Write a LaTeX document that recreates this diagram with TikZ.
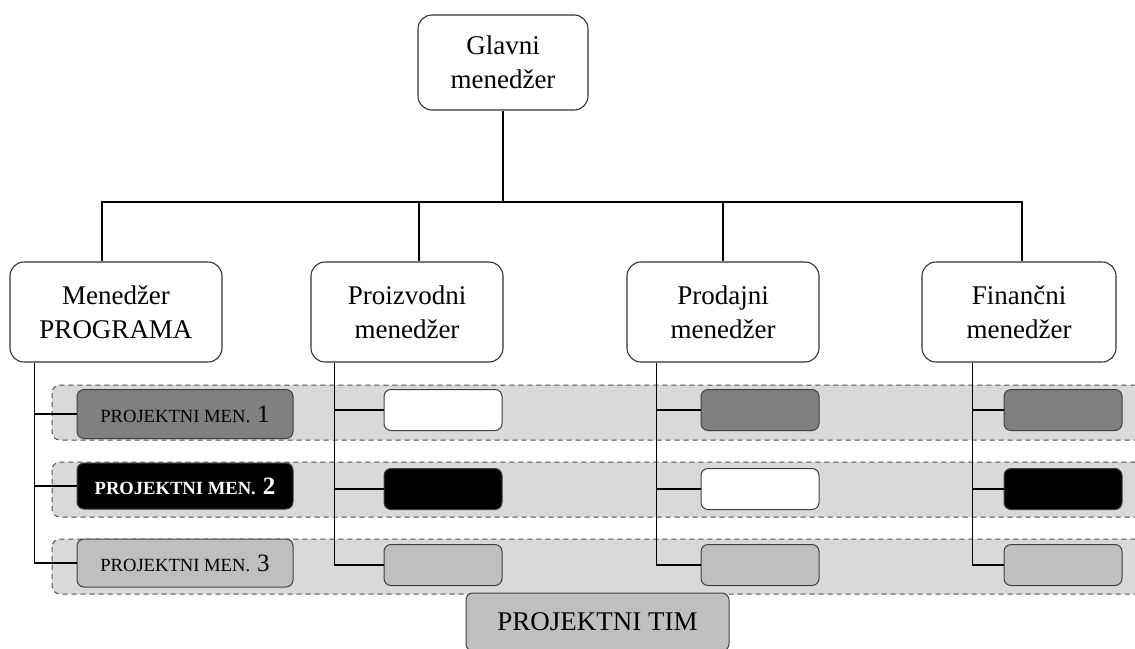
\documentclass[tikz,border=0pt]{standalone}
\usepackage{fontspec}
\setmainfont{Liberation Serif}
\usepackage{tikz}

% label of the project managers
\newcommand{\pmlabel}[1]{{\fontsize{18.6}{20}\selectfont PROJEKTNI MEN.}\hspace{7pt}{\fontsize{25}{28}\selectfont #1}}

\begin{document}
\begin{tikzpicture}[x=1pt,y=-1pt]

	% styles of the boxes
	\tikzstyle{manager}=[draw=black!80,line width=1.1pt,rounded corners=14pt,fill=white,align=center,
		font=\fontsize{27}{34}\selectfont,inner sep=0pt,minimum height=100pt]
	\tikzstyle{projbox}=[draw=black!75,line width=1pt,rounded corners=7pt,inner sep=0pt,
		minimum height=41pt,minimum width=118pt]
	\tikzstyle{band}=[draw=black!70,dash pattern=on 5pt off 4pt,fill=black!15,rounded corners=8pt,line width=1pt]
	\tikzstyle{link}=[line width=1.3pt]

	\useasboundingbox (0,0) rectangle (1135,648);

	% project team bands
	\foreach \y in {385,462,539}
		\draw[band] (52,\y) rectangle (1160,\y+55);

	\node[manager,minimum width=170pt,minimum height=95pt] (glavni) at (503,62.5) {Glavni\\menedžer};

	\node[manager,minimum width=212pt] (program) at (116,312) {Menedžer\\PROGRAMA};
	\node[manager,minimum width=192pt] (proizv) at (407,312) {Proizvodni\\menedžer};
	\node[manager,minimum width=192pt] (prodaj) at (723,312) {Prodajni\\menedžer};
	\node[manager,minimum width=194pt] (financ) at (1019,312) {Finančni\\menedžer};

	\coordinate (bus) at (503,202);
	\draw[link] (glavni.south) -- (bus);
	\draw[link] ([xshift=-14pt]program.north) |- ([xshift=3pt]financ.north |- bus) -- ([xshift=3pt]financ.north);
	\draw[link] ([xshift=12pt]proizv.north) -- ([xshift=12pt]proizv.north |- bus);
	\draw[link] (prodaj.north) -- (prodaj.north |- bus);

	% project managers and team members
	\node[projbox,minimum width=216pt,minimum height=49pt,fill=black!50] (pm1) at (185,414) {\pmlabel{1}};
	\node[projbox,minimum width=216pt,minimum height=46pt,fill=black,text=white,font=\bfseries] (pm2) at (185,486) {\pmlabel{2}};
	\node[projbox,minimum width=216pt,minimum height=48pt,fill=black!25] (pm3) at (185,563) {\pmlabel{3}};

	\node[projbox,fill=white] (proiz1) at (443,410) {};
	\node[projbox,fill=black] (proiz2) at (443,489) {};
	\node[projbox,fill=black!25] (proiz3) at (443,565) {};

	\node[projbox,fill=black!50] (prod1) at (760,410) {};
	\node[projbox,fill=white] (prod2) at (760,489) {};
	\node[projbox,fill=black!25] (prod3) at (760,565) {};

	\node[projbox,fill=black!50] (fin1) at (1063,410) {};
	\node[projbox,fill=black] (fin2) at (1063,489) {};
	\node[projbox,fill=black!25] (fin3) at (1063,565) {};

	\coordinate (c1) at ([xshift=25pt]program.south west);
	\coordinate (c2) at ([xshift=24pt]proizv.south west);
	\coordinate (c3) at ([xshift=30pt]prodaj.south west);
	\coordinate (c4) at ([xshift=51pt]financ.south west);

	\draw[link] (c1) |- (pm3.west);
	\draw[link] (c1 |- pm1.west) -- (pm1.west);
	\draw[link] (c1 |- pm2.west) -- (pm2.west);

	\draw[link] (c2) |- (proiz3.west);
	\draw[link] (c2 |- proiz1.west) -- (proiz1.west);
	\draw[link] (c2 |- proiz2.west) -- (proiz2.west);

	\draw[link] (c3) |- (prod3.west);
	\draw[link] (c3 |- prod1.west) -- (prod1.west);
	\draw[link] (c3 |- prod2.west) -- (prod2.west);

	\draw[link] (c4) |- (fin3.west);
	\draw[link] (c4 |- fin1.west) -- (fin1.west);
	\draw[link] (c4 |- fin2.west) -- (fin2.west);

	\node[projbox,minimum width=263pt,minimum height=58pt,fill=black!25,
		font=\fontsize{27}{30}\selectfont] (tim) at (597.5,622) {PROJEKTNI TIM};

\end{tikzpicture}
\end{document}
